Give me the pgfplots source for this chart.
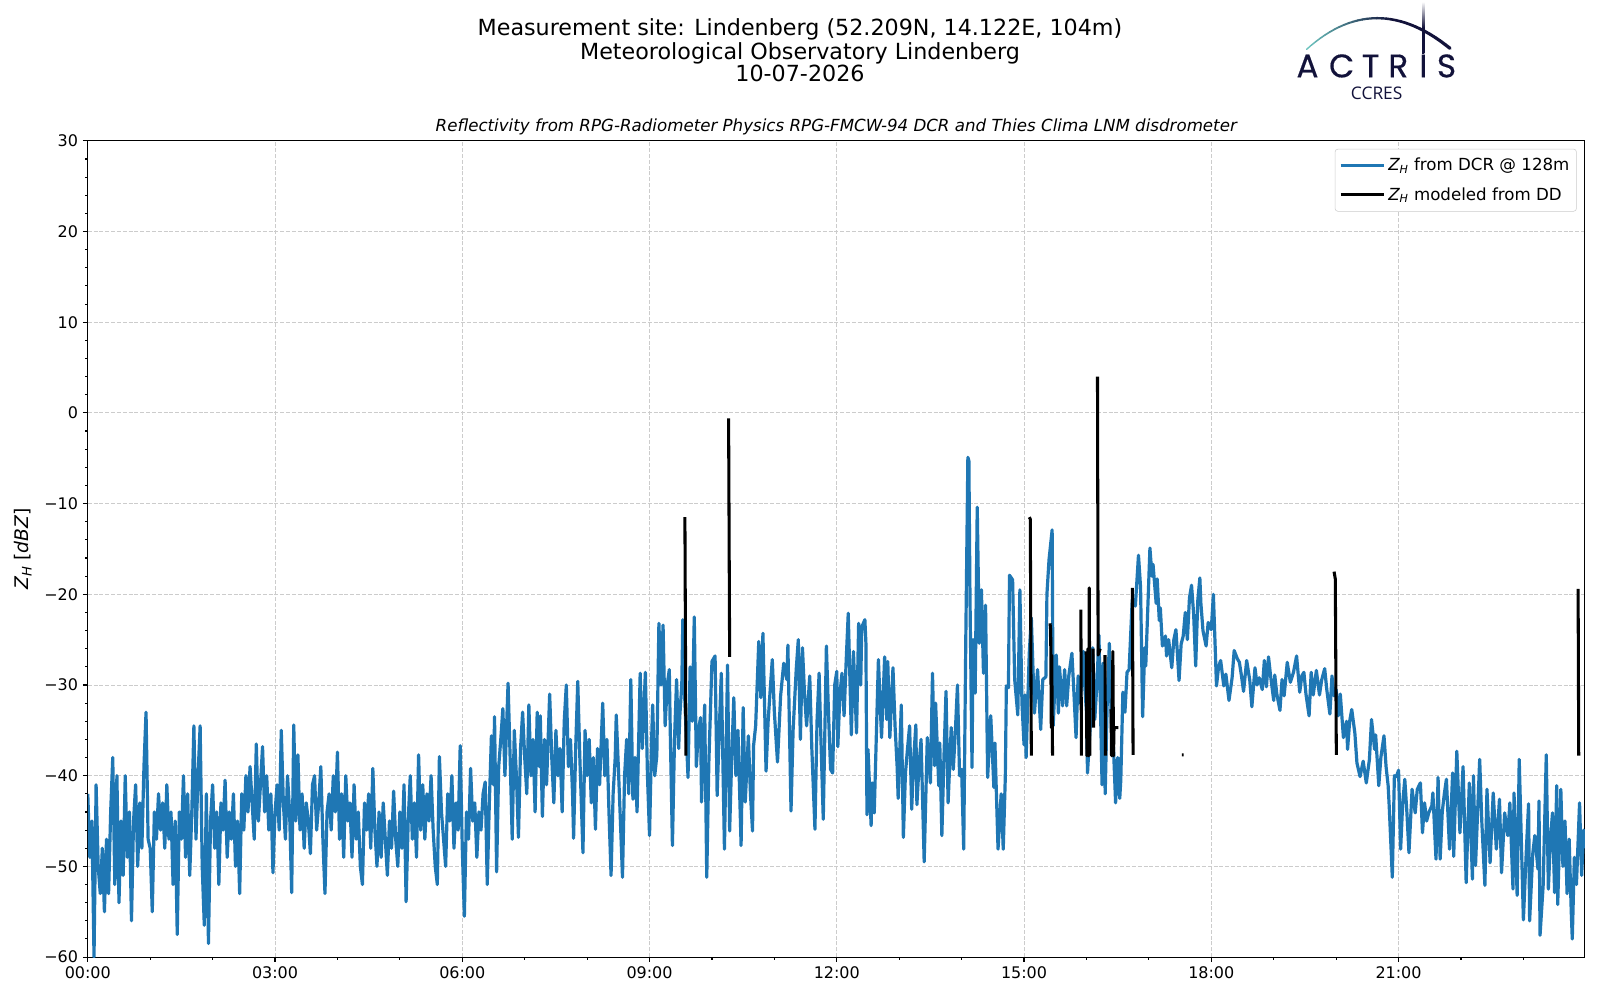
\documentclass[border=0pt]{standalone}
\usepackage{fontspec}
\setmainfont{DejaVu Sans}
\newfontfamily\logofont[FakeBold=0.4]{Poppins}
\newfontfamily\ccresfont{Open Sans}
\usepackage{pgfplots}
\usepackage{pgfplotstable}
\pgfplotsset{compat=1.18}
\definecolor{mplblue}{HTML}{1F77B4}
\definecolor{logoteal}{HTML}{6CC3BE}
\definecolor{logonavy}{HTML}{12123A}
\newcommand{\ZH}{{\itshape Z}\textsubscript{\itshape H}}

\pgfplotstableread{
t z
0 -42
2 -49
4 -45
6 -60
8 -41
10 -50
12 -53
14 -48
16 -55
18 -47
20 -53
22 -44
24 -38
26 -52
28 -40
30 -54
32 -45
34 -51
36 -40
38 -49
40 -44
42 -56
44 -45
46 -41
48 -50
50 -43
52 -48
54 -39
56 -33
58 -47
60 -48
62 -55
64 -44
66 -47
68 -42
70 -46
72 -43
74 -48
76 -41
78 -47
80 -44
82 -52
84 -45
86 -57.5
88 -44
90 -47
92 -40
94 -49
96 -42
98 -51
100 -44
102 -34.5
104 -47
106 -40
108 -34.5
110 -50
112 -56.5
114 -42
116 -58.5
118 -45
120 -41
122 -48
124 -44
126 -52
128 -43
130 -46
132 -40.5
134 -49
136 -44
138 -47
140 -42
142 -50
144 -45
146 -53
148 -42
150 -46
152 -40
154 -44
156 -39
158 -43
160 -47
162 -36.5
164 -45
166 -41
168 -36.8
170 -44
172 -40
174 -46
176 -42
178 -50.7
180 -44
182 -41
184 -46
186 -35
188 -43
190 -47
192 -40
194 -44
196 -52.9
198 -34.4
200 -45
202 -37.7
204 -46
206 -42
208 -48
210 -43
212 -45
214 -48.6
216 -41
218 -40
220 -46
222 -43
224 -39
226 -47
228 -53
230 -44
232 -42
234 -46
236 -40
238 -44
240 -37.4
242 -47
244 -42
246 -49
248 -40
250 -45
252 -43
254 -49
256 -41
258 -47
260 -44
262 -50
264 -52
266 -43
268 -46
270 -42
272 -48
274 -39.2
276 -46
278 -50
280 -44
282 -49
284 -43
286 -47
288 -51
290 -45
292 -48
294 -41.7
296 -47
298 -50
300 -44
302 -48
304 -41
306 -53.9
308 -45
310 -40
312 -47
314 -43
316 -49
318 -37.7
320 -46
322 -41
324 -47
326 -42
328 -45
330 -40
332 -46
334 -50
336 -52
338 -37.9
340 -44
342 -47
344 -50
346 -42
348 -45
350 -40
352 -48
354 -43
356 -46
358 -36.7
360 -48
362 -55.5
364 -44
366 -47
368 -39.2
370 -45
372 -43
374 -49
376 -44
378 -46
380 -42
382 -40.7
384 -52
386 -43
388 -35.6
390 -41
391 -33.5
393 -50.6
395 -39
397 -36
399 -32.6
401 -40
404 -29.8
406 -38
408 -47
410 -35
412 -40
414 -46.8
416 -37
418 -33
420 -38
422 -42
424 -32.2
426 -40
428 -36
430 -44
432 -33
434 -39
435 -33.4
437 -44.5
439 -36
441 -41
444 -31
446 -38
448 -43
450 -35
452 -40
454 -37
456 -44
458 -34
460 -30
462 -39
464 -36
466 -42
467 -46.9
469 -37
471 -29.6
473 -38
476 -48.5
478 -35
480 -40
482 -36
484 -43
486 -38
488 -45.9
490 -37
492 -41
494 -35
495 -32
497 -40
499 -36
501 -44
503 -51
505 -42
507 -38
508 -33.3
510 -39
512 -45
514 -51.2
516 -40
518 -36
520 -42
522 -29.4
524 -42.6
526 -38
528 -44
531 -28.7
533 -37
536 -28.6
538 -40
540 -46.6
542 -36
543 -32.2
545 -40
547 -37.8
549 -23.2
551 -30
553 -23.4
555 -34.5
557 -30
559 -28.3
560 -35.6
562 -47.7
564 -36
566 -29.4
568 -37
569 -33.6
571 -30
572 -22.8
574 -32
577 -40.2
579 -28
581 -34
583 -22.5
585 -39
587 -35
589 -33.6
590 -42.9
593 -32.2
595 -51.2
597 -38.6
600 -27.4
603 -26.8
605 -42.2
607 -35
609 -28.7
612 -48.1
615 -27.8
617 -46.1
619 -38
621 -31.4
623 -40
625 -35
628 -47.7
630 -32.5
632 -42.9
634 -38
635 -35.6
637 -42
639 -46.1
640 -36.7
642 -34.5
645 -25.2
647 -31.4
649 -24.3
652 -39.5
654 -34
656 -30.5
658 -27.2
660 -33
663 -38.5
666 -31.2
669 -27.6
672 -29.4
673 -25.6
676 -43.9
678 -35
681 -28.3
683 -25
685 -36
687 -25.9
689 -31
691 -34.5
694 -29
696 -37
699 -45.9
701 -34
703 -28.7
705 -37
707 -44.8
710 -25.7
712 -33
714 -39.3
716 -39.7
718 -30
720 -28.5
721 -36.8
723 -31
725 -28.7
727 -33.4
729 -27.4
731 -22.1
734 -35.5
736 -26.3
739 -35.3
741 -23.2
743 -30
744 -23.6
747 -22.8
748 -25.4
749 -44.3
750 -37.1
753 -45.5
754 -40.8
756 -44.1
760 -27.2
763 -35.8
766 -26.9
768 -33.8
769 -27.4
771 -35.8
774 -28.1
776 -34.5
778 -39
779 -42.5
782 -32.2
784 -46.8
786 -39.7
788 -37
790 -34.5
792 -43.7
794 -38
796 -34.4
797 -43.2
799 -39
801 -36
804 -49.5
807 -35.8
810 -40.8
812 -28.7
814 -38.9
815 -32
818 -41.1
819 -36.4
821 -46.6
823 -38
825 -30.7
827 -43
830 -34.7
832 -39.3
834 -35
836 -30
838 -40
840 -39.3
842 -48.1
844 -25
846 -4.9
847 -5.3
848 -20
850 -39.1
851 -25
853 -30.9
855 -10.4
857 -25.4
859 -19.5
861 -28.7
863 -21.2
865 -40.2
868 -33.4
871 -41.3
872 -36.4
875 -48.1
878 -42
880 -48.1
882 -40.1
883 -30.1
885 -30.3
886 -17.9
889 -18.4
891 -29.4
894 -33.3
896 -19.5
898 -32
900 -36.6
901 -31.1
902 -38
905 -26.5
907 -22.6
910 -33.1
913 -28.3
916 -34.9
918 -29.4
921 -29.1
922 -20
924 -16.2
926 -14
927 -12.9
928 -34.5
931 -26.7
933 -33.1
934 -28
937 -32.3
939 -28.3
941 -32.3
943 -29
946 -26.5
948 -31
950 -35.8
952 -29
954 -32
957 -26.3
958 -29.4
960 -33
961 -39.7
964 -33.8
966 -25.9
968 -33.8
970 -30
972 -24.5
975 -41
976 -27.6
978 -42
980 -31.7
982 -25.4
984 -34.6
986 -37
988 -43
990 -38
992 -42.5
993 -40.5
995 -30.8
997 -33
999 -28.6
1001 -28.3
1004 -20.6
1007 -21.3
1010 -15.7
1012 -19.2
1014 -33.5
1016 -25.9
1017 -27.9
1021 -14.9
1023 -18
1024 -16.7
1027 -21
1028 -18.3
1030 -22.9
1031 -21.5
1033 -25.7
1036 -24.6
1037 -26.8
1039 -25
1042 -28.1
1044 -25
1046 -23.9
1049 -29.5
1051 -25.5
1053 -24.6
1055 -22
1057 -25
1059 -20.4
1061 -19
1063 -22.1
1065 -27.9
1067 -20.7
1069 -18.2
1070 -21
1072 -24
1075 -25.7
1077 -23.1
1080 -23.9
1082 -20
1085 -30.1
1087 -28
1089 -27.3
1092 -30.1
1094 -28.8
1097 -31.7
1100 -29.2
1102 -26.2
1105 -27.1
1107 -27.5
1109 -29
1111 -30.7
1114 -27.3
1117 -29.5
1119 -32.4
1122 -28.1
1124 -30
1126 -29.2
1129 -30.5
1131 -27.3
1133 -30.2
1135 -26.9
1137 -29
1140 -31.7
1141 -28.9
1143 -31
1146 -32.8
1148 -29.4
1150 -31.2
1153 -27.5
1156 -29.7
1159 -28.6
1162 -26.8
1165 -30.8
1167 -29
1169 -28.6
1171 -31
1174 -33.4
1176 -28.6
1178 -31.1
1181 -28.4
1184 -31.1
1186 -29.5
1189 -28.2
1191 -30.5
1194 -33.2
1196 -29
1198 -31.2
1200 -30.5
1202 -33.4
1204 -31
1207 -35.8
1210 -34
1211 -37.1
1213 -34
1215 -32.7
1218 -35.3
1220 -38.6
1223 -40.1
1226 -38.4
1229 -40.8
1232 -38.2
1234 -33.8
1237 -37.1
1238 -35.5
1241 -41.1
1243 -38
1246 -35.6
1248 -39
1250 -41.1
1251 -43.3
1254 -51.2
1256 -40
1258 -40.1
1260 -39.4
1262 -48.1
1264 -43
1266 -40.4
1268 -44
1270 -48.5
1273 -41.5
1276 -44.1
1278 -41.5
1281 -40.8
1283 -46.3
1285 -43
1287 -45
1289 -44.1
1292 -43.3
1293 -41.9
1296 -49.2
1298 -40.2
1300 -49.2
1302 -44
1304 -42
1306 -40.4
1309 -48.1
1312 -39.7
1313 -48.9
1316 -37.3
1319 -46.3
1322 -39
1325 -51.8
1328 -40.8
1331 -51.4
1332 -40
1334 -49.9
1336 -44
1338 -38.2
1340 -45
1343 -52.1
1345 -41.5
1348 -49.6
1351 -41.9
1354 -48.1
1357 -42.6
1359 -50.7
1362 -44.1
1365 -46.6
1367 -43
1370 -52.5
1371 -41.9
1374 -53.2
1376 -38.2
1378 -47
1380 -55.9
1383 -47.8
1385 -43.1
1386 -56
1389 -48.6
1391 -46.6
1394 -50.3
1395 -42.8
1396 -57.6
1399 -52.1
1402 -37.7
1404 -52.5
1406 -47
1408 -44.1
1410 -52.9
1412 -41.1
1413 -54.2
1416 -41.5
1418 -50
1420 -45
1422 -53
1424 -47
1426 -55
1427 -58
1429 -49
1431 -52
1434 -43
1436 -51
1438 -46
1439 -48
}\dcrdata

\pgfplotstableread{
t z
574 -11.5
575 -37.8
575.5 nan
616 -0.6
617 -26.9
617.5 nan
905 -11.5
906 -11.7
907 -37.8
907.5 nan
925 -23.2
925.6 -24
926.2 -34.7
926.6 -26.7
927.4 -37.8
928 nan
954.6 -21.7
955.2 -37.8
955.5 nan
959.8 -26.3
960.4 -37.8
961.5 -26.0
962.2 -37.8
962.7 -19.3
963.3 -37.8
964 nan
966.4 -26.0
966.9 -34.7
967.5 nan
970.6 4.0
971.2 -26.7
973.2 -26.0
974 nan
977.8 -26.7
978.3 -37.8
979 nan
983.6 -32.7
984.1 -37.8
985.4 -26.3
986 -37.8
986.5 -34.7
990.6 -34.7
991 nan
1004.2 -19.3
1004.8 -37.7
1005.5 nan
1051.8 -37.7
1053.4 -37.7
1054 nan
1198.0 -17.5
1199.2 -18.3
1200.2 -37.7
1201 nan
1432.6 -19.4
1433.2 -37.8
}\dddata

\begin{document}
\begin{tikzpicture}
\useasboundingbox (0,0) rectangle (1152pt,720pt);
\fill[white] (0,0) rectangle (1152pt,720pt);
\begin{axis}[
  at={(63.2pt,30.9pt)}, anchor=south west,
  scale only axis, width=1077.8pt, height=587.7pt,
  xmin=0, xmax=1439, ymin=-60, ymax=30,
  xtick={0,180,360,540,720,900,1080,1260},
  xticklabels={00:00,03:00,06:00,09:00,12:00,15:00,18:00,21:00},
  minor xtick={60,120,240,300,420,480,600,660,780,840,960,1020,1140,1200,1320,1380},
  ytick={-60,-50,-40,-30,-20,-10,0,10,20,30},
  yticklabels={−60,−50,−40,−30,−20,−10,0,10,20,30},
  minor ytick={-58,-56,-54,-52,-48,-46,-44,-42,-38,-36,-34,-32,-28,-26,-24,-22,-18,-16,-14,-12,-8,-6,-4,-2,2,4,6,8,12,14,16,18,22,24,26,28},
  tick align=outside,
  major tick length=3.5pt, minor tick length=2pt,
  every tick/.style={black, line width=0.8pt},
  axis line style={line width=0.8pt},
  tick label style={font=\fontsize{11.5}{13}\selectfont},
  xtick pos=bottom, ytick pos=left,
  grid=major,
  major grid style={dash pattern=on 2.9pt off 1.3pt, gray!40, line width=0.6pt},
  legend style={at={(1,1)}, anchor=north east, xshift=-5.8pt, yshift=-5.8pt,
    draw=gray!40, rounded corners=2pt, fill=white,
    font=\fontsize{12}{14}\selectfont, inner xsep=3pt, inner ysep=4.5pt, row sep=6.5pt},
  legend cell align=left,
  legend image code/.code={\draw[#1] (0pt,0pt) -- (26pt,0pt); \path (0pt,0pt) -- (31pt,0pt);},
]
\addplot[mplblue, line width=2.3pt, line join=round] table[x=t, y=z] {\dcrdata};
\addlegendentry{\ZH{} from DCR @ 128m}
\addplot[black, line width=2.2pt, line join=round, unbounded coords=jump] table[x=t, y=z] {\dddata};
\addlegendentry{\ZH{} modeled from DD}
\end{axis}

% titles
\node[anchor=base, inner sep=0pt, font=\fontsize{16}{19}\selectfont] at (576pt,694.3pt) {Measurement site: Lindenberg (52.209N, 14.122E, 104m)};
\node[anchor=base, inner sep=0pt, font=\fontsize{16}{19}\selectfont] at (576pt,677.5pt) {Meteorological Observatory Lindenberg};
\node[anchor=base, inner sep=0pt, font=\fontsize{16}{19}\selectfont] at (576pt,661.2pt) {10-07-2026};
\node[anchor=base, inner sep=0pt, font=\fontsize{12}{14}\selectfont\itshape] at (602.1pt,625.2pt) {Reflectivity from RPG-Radiometer Physics RPG-FMCW-94 DCR and Thies Clima LNM disdrometer};
% y label
\node[rotate=90, inner sep=0pt, font=\fontsize{13.5}{16}\selectfont] at (16.5pt,324.8pt) {\ZH{} [{\itshape dBZ}]};

% logo
\foreach \i in {0,...,29}{
  \pgfmathsetmacro\ta{\i/30}
  \pgfmathsetmacro\tb{(\i+1)/30}
  \pgfmathsetmacro\xa{(1-\ta)^2*940.8+2*\ta*(1-\ta)*990+\ta^2*1044}
  \pgfmathsetmacro\ya{(1-\ta)^2*684.5+2*\ta*(1-\ta)*729+\ta^2*685.2}
  \pgfmathsetmacro\xb{(1-\tb)^2*940.8+2*\tb*(1-\tb)*990+\tb^2*1044}
  \pgfmathsetmacro\yb{(1-\tb)^2*684.5+2*\tb*(1-\tb)*729+\tb^2*685.2}
  \pgfmathsetmacro\pc{min(100,\ta*100/0.6)}
  \pgfmathsetmacro\lw{1.0+\ta*1.4}
  \draw[color=logonavy!\pc!logoteal, line width=\lw pt, line cap=round] (\xa pt,\ya pt) -- (\xb pt,\yb pt);
}
\shade[top color=white, bottom color=logonavy, middle color=logonavy] (1024pt,681.6pt) rectangle (1025.6pt,718.8pt);
\begin{scope}[every node/.style={anchor=base, inner sep=0pt, text=logonavy, font=\logofont\fontsize{23.5}{26}\selectfont}]
\node at (941.4pt,664.3pt) {A};
\node at (966pt,664.3pt) {C};
\node at (986.9pt,664.3pt) {T};
\node at (1006.8pt,664.3pt) {R};
\node at (1024.8pt,664.3pt) {I};
\node at (1041.5pt,664.3pt) {S};
\end{scope}
\node[anchor=base, inner sep=0pt, text=logonavy, font=\ccresfont\fontsize{12.5}{14}\selectfont] at (991.2pt,648.7pt) {CCRES};
\end{tikzpicture}
\end{document}
